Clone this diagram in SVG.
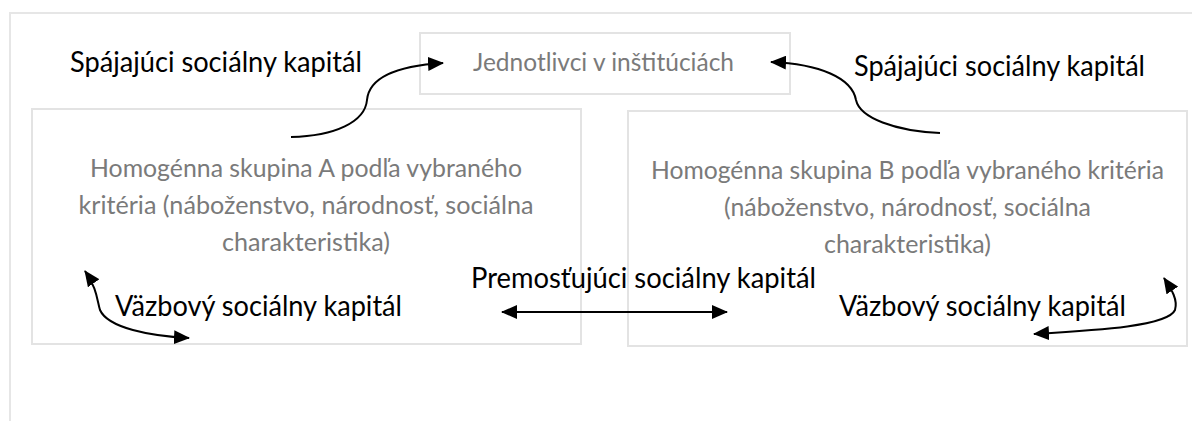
<svg xmlns="http://www.w3.org/2000/svg" width="1192" height="421" viewBox="0 0 1192 421">
<style>
.box{fill:#ffffff;stroke:#e3e3e3;stroke-width:2}
.frame{fill:none;stroke:#e6e6e6;stroke-width:2}
.node{font-family:Lato,"Open Sans",sans-serif;font-size:25px;fill:#7a7a7a;text-anchor:middle}
.lbl{font-family:Lato,"Open Sans",sans-serif;font-size:28px;fill:#000000}
.con{fill:none;stroke:#000000;stroke-width:2}
</style>
<defs>
<marker id="ah" viewBox="0 0 16 14" refX="15" refY="7" markerWidth="16" markerHeight="14" markerUnits="userSpaceOnUse" orient="auto-start-reverse">
<path d="M0,0 L16,7 L0,14 Z" fill="#000000"/>
</marker>
</defs>
<rect width="1192" height="421" fill="#ffffff"/>
<path class="frame" d="M10,421 L10,13 L1192,13"/>
<g id="node-institucie">
<rect class="box" x="420" y="33" width="370" height="61"/>
<text class="node" x="603.5" y="71" textLength="261" lengthAdjust="spacingAndGlyphs">Jednotlivci v inštitúciách</text>
</g>
<g id="node-skupinaA">
<rect class="box" x="32" y="109" width="549" height="235"/>
<text class="node" x="306" y="177" textLength="432" lengthAdjust="spacingAndGlyphs">Homogénna skupina A podľa vybraného</text>
<text class="node" x="306" y="214" textLength="455" lengthAdjust="spacingAndGlyphs">kritéria (náboženstvo, národnosť, sociálna</text>
<text class="node" x="306" y="251" textLength="168" lengthAdjust="spacingAndGlyphs">charakteristika)</text>
</g>
<g id="node-skupinaB">
<rect class="box" x="628" y="111" width="559" height="235"/>
<text class="node" x="907.5" y="179" textLength="513" lengthAdjust="spacingAndGlyphs">Homogénna skupina B podľa vybraného kritéria</text>
<text class="node" x="907.5" y="216" textLength="367" lengthAdjust="spacingAndGlyphs">(náboženstvo, národnosť, sociálna</text>
<text class="node" x="907.5" y="253" textLength="167" lengthAdjust="spacingAndGlyphs">charakteristika)</text>
</g>
<g id="connectors">
<path class="con" d="M291,137 C335,136 365,122 367,100 C369,78 395,66 443,63" marker-end="url(#ah)"/>
<path class="con" d="M940,133 C895,131 860,118 856,100 C852,78 820,64 771,62" marker-end="url(#ah)"/>
<path class="con" d="M85,271 C97,288 97,300 100,310 C108,328 150,336 189,338" marker-start="url(#ah)" marker-end="url(#ah)"/>
<path class="con" d="M1164,278 C1172,290 1178,300 1175,310 C1168,326 1100,330 1034,334" marker-start="url(#ah)" marker-end="url(#ah)"/>
<path class="con" d="M502,312 L727,312" marker-start="url(#ah)" marker-end="url(#ah)"/>
</g>
<g id="labels">
<text class="lbl" x="70" y="72" textLength="292" lengthAdjust="spacingAndGlyphs">Spájajúci sociálny kapitál</text>
<text class="lbl" x="854" y="76" textLength="291" lengthAdjust="spacingAndGlyphs">Spájajúci sociálny kapitál</text>
<text class="lbl" x="471" y="288" textLength="345" lengthAdjust="spacingAndGlyphs">Premosťujúci sociálny kapitál</text>
<text class="lbl" x="115" y="316" textLength="287" lengthAdjust="spacingAndGlyphs">Väzbový sociálny kapitál</text>
<text class="lbl" x="839" y="316" textLength="287" lengthAdjust="spacingAndGlyphs">Väzbový sociálny kapitál</text>
</g>
</svg>
